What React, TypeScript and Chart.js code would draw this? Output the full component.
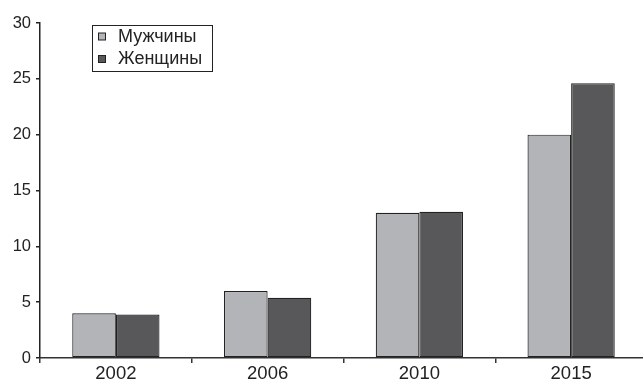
import React, { useEffect, useRef } from "react";
import { Chart, registerables } from "chart.js";

Chart.register(...registerables);

const years = ["2002", "2006", "2010", "2015"];
const men = [4.0, 6.0, 13.0, 20.0];
const women = [3.9, 5.4, 13.1, 24.6];
const seriesNames = ["Мужчины", "Женщины"];
const seriesColors = ["#b3b4b7", "#58585a"];
const yTicks = [0, 5, 10, 15, 20, 25, 30];

const FONT = "'Liberation Sans', Arial, Helvetica, sans-serif";

// Boxed legend drawn in the upper-left part of the plot area
const boxLegend = {
  id: "boxLegend",
  afterDraw(chart: any) {
    const ctx = chart.ctx as CanvasRenderingContext2D;
    const x0 = 92.5;
    const y0 = 25.5;
    const w = 120;
    const h = 46;
    ctx.save();
    ctx.strokeStyle = "#222";
    ctx.lineWidth = 1;
    ctx.fillStyle = "#fff";
    ctx.fillRect(x0, y0, w, h);
    ctx.strokeRect(x0, y0, w, h);
    ctx.font = `18px ${FONT}`;
    ctx.textBaseline = "middle";
    ctx.textAlign = "left";
    chart.data.datasets.forEach((ds: any, i: number) => {
      const cy = y0 + 11 + i * 22.5;
      ctx.fillStyle = ds.backgroundColor;
      ctx.fillRect(98.5, cy - 3.5, 7, 7);
      ctx.strokeStyle = "#222";
      ctx.strokeRect(98.5, cy - 3.5, 7, 7);
      ctx.fillStyle = "#222";
      ctx.fillText(ds.label, 118, cy + 0.5);
    });
    ctx.restore();
  },
};

export default function App() {
  const ref = useRef<HTMLCanvasElement | null>(null);

  useEffect(() => {
    if (!ref.current) return;
    const chart = new Chart(ref.current, {
      type: "bar",
      data: {
        labels: years,
        datasets: [
          {
            label: seriesNames[0],
            data: men,
            backgroundColor: seriesColors[0],
            borderColor: "#222",
            borderWidth: 1.2,
            borderSkipped: false,
          },
          {
            label: seriesNames[1],
            data: women,
            backgroundColor: seriesColors[1],
            borderColor: "#222",
            borderWidth: 1.2,
            borderSkipped: false,
          },
        ],
      },
      options: {
        responsive: false,
        animation: false,
        maintainAspectRatio: false,
        layout: { padding: { top: 23, right: 3, left: 0, bottom: 0 } },
        plugins: {
          legend: { display: false },
          tooltip: { enabled: false },
        },
        datasets: {
          bar: { categoryPercentage: 0.575, barPercentage: 1 },
        },
        scales: {
          x: {
            grid: {
              display: true,
              offset: true,
              drawOnChartArea: false,
              drawTicks: true,
              tickLength: 5,
              color: "#333",
              lineWidth: 1.5,
            },
            border: { display: true, color: "#333", width: 1.5 },
            ticks: {
              color: "#222",
              font: { family: FONT, size: 18.5 },
              padding: 0,
              maxRotation: 0,
            },
            afterFit(scale: any) {
              scale.height = 25;
            },
          },
          y: {
            min: 0,
            max: 30,
            afterBuildTicks(scale: any) {
              scale.ticks = yTicks.map((v) => ({ value: v }));
            },
            grid: {
              display: true,
              drawOnChartArea: false,
              drawTicks: true,
              tickLength: 4,
              color: "#222",
              lineWidth: 1.5,
            },
            border: { display: true, color: "#222", width: 1.5 },
            ticks: {
              color: "#222",
              font: { family: FONT, size: 16.5 },
              padding: 5,
            },
            afterFit(scale: any) {
              scale.width = 40;
            },
          },
        },
      },
      plugins: [boxLegend],
    });
    return () => chart.destroy();
  }, []);

  return (
    <div
      style={{
        position: "fixed",
        left: 0,
        top: 0,
        width: 643,
        height: 383,
        overflow: "hidden",
        background: "#fff",
      }}
    >
      <canvas ref={ref} width={650} height={383} style={{ display: "block" }} />
    </div>
  );
}
